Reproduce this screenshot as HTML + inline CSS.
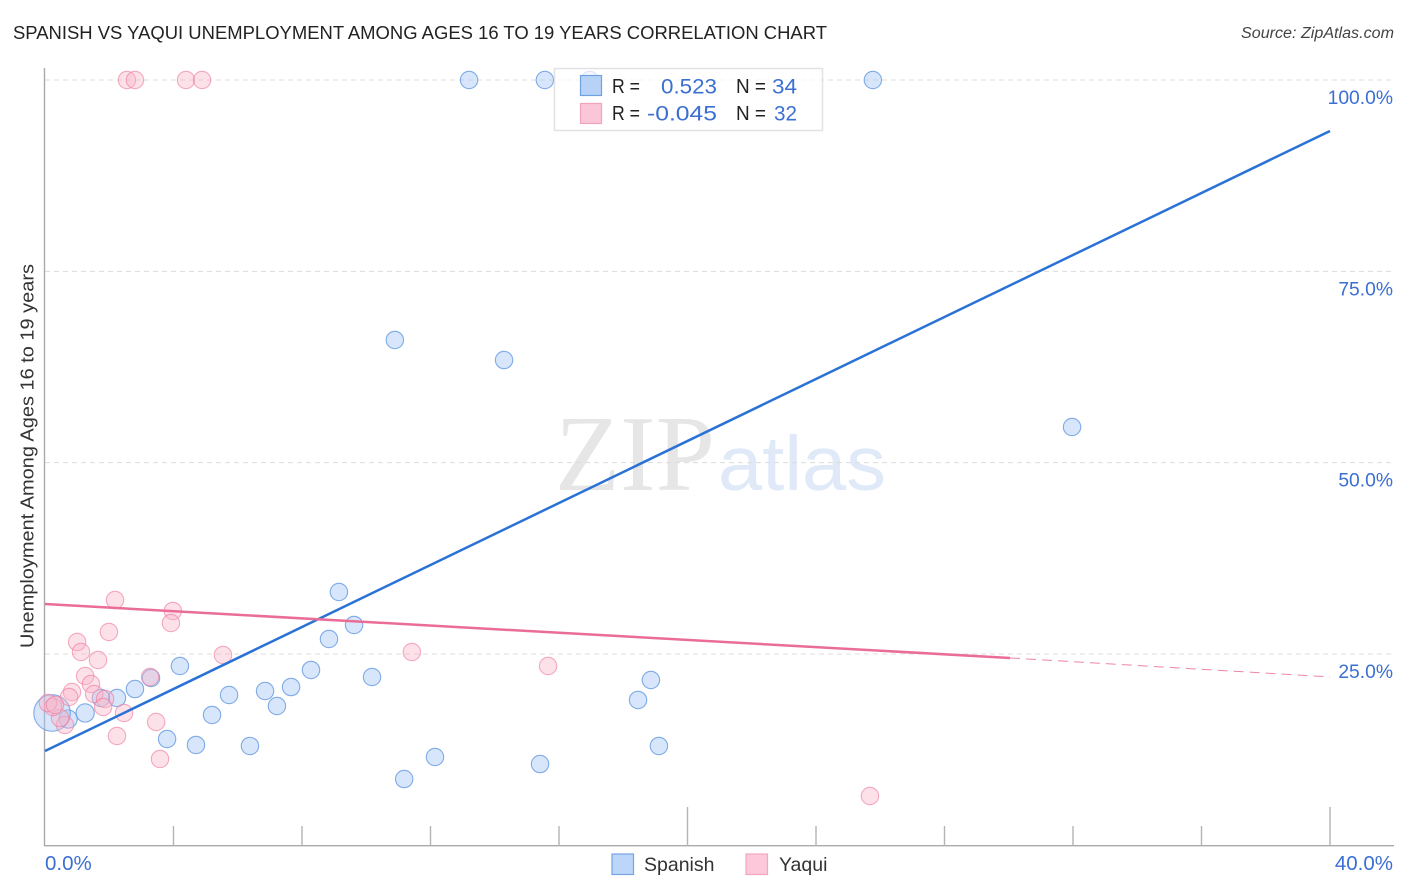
<!DOCTYPE html>
<html lang="en">
<head>
<meta charset="utf-8">
<title>Spanish vs Yaqui Unemployment Correlation Chart</title>
<style>
html,body{margin:0;padding:0;background:#fff;width:1406px;height:892px;overflow:hidden}
svg{display:block;font-family:"Liberation Sans",sans-serif}
</style>
</head>
<body>
<svg id="chart" xmlns="http://www.w3.org/2000/svg" width="1406" height="892" viewBox="0 0 1406 892">
  <text x="13" y="39" font-size="18.5" fill="#222" textLength="814" lengthAdjust="spacingAndGlyphs">SPANISH VS YAQUI UNEMPLOYMENT AMONG AGES 16 TO 19 YEARS CORRELATION CHART</text>
  <text x="1241" y="38" font-size="15.5" font-style="italic" fill="#444" textLength="153" lengthAdjust="spacingAndGlyphs">Source: ZipAtlas.com</text>
  <text x="555" y="490" font-size="108" font-family="'Liberation Serif',serif" fill="#e6e6e6" textLength="160" lengthAdjust="spacingAndGlyphs">ZIP</text>
  <text x="718" y="490" font-size="77" fill="#dfe9f8" textLength="168" lengthAdjust="spacingAndGlyphs">atlas</text>
  <g id="grid"></g>
  <g id="axes"></g>
  <g id="points"></g>
  <g id="trends"></g>
  <text transform="translate(33.5,456) rotate(-90)" font-size="18" fill="#333" text-anchor="middle" textLength="384" lengthAdjust="spacingAndGlyphs">Unemployment Among Ages 16 to 19 years</text>

  <g>
    <rect x="554.5" y="68.5" width="268" height="62" fill="#fff" fill-opacity="0.72" stroke="#e2e2e2" stroke-width="1.5"/>
    <rect x="580.5" y="75.5" width="21" height="20" fill="#b4d0f7" fill-opacity="0.95" stroke="#6fa0e2" stroke-width="1.2"/>
    <rect x="580.5" y="103.5" width="21" height="20" fill="#fbc6d8" stroke="#f4a3bd" stroke-width="1.2"/>
    <g font-size="20" fill="#222">
      <text x="612" y="93" textLength="28" lengthAdjust="spacingAndGlyphs">R =</text>
      <text x="612" y="120" textLength="28" lengthAdjust="spacingAndGlyphs">R =</text>
      <text x="736" y="93" textLength="30" lengthAdjust="spacingAndGlyphs">N =</text>
      <text x="736" y="120" textLength="30" lengthAdjust="spacingAndGlyphs">N =</text>
    </g>
    <g font-size="21" fill="#3b6fd1">
      <text x="661" y="93.5" textLength="56" lengthAdjust="spacingAndGlyphs">0.523</text>
      <text x="647" y="120.5" textLength="70" lengthAdjust="spacingAndGlyphs">-0.045</text>
      <text x="772" y="93.5" textLength="25" lengthAdjust="spacingAndGlyphs">34</text>
      <text x="774" y="120.5" textLength="23" lengthAdjust="spacingAndGlyphs">32</text>
    </g>
  </g>

  <g>
    <rect x="612" y="854" width="21.5" height="20.5" fill="#bcd6f9" stroke="#74a4e4" stroke-width="1.2"/>
    <text x="644" y="871" font-size="19.5" fill="#333">Spanish</text>
    <rect x="746" y="854" width="21.5" height="20.5" fill="#fcc8da" stroke="#f4a6bf" stroke-width="1.2"/>
    <text x="779" y="871" font-size="19.5" fill="#333">Yaqui</text>
  </g>
</svg>
<script>
const xTickValues = [0, 4, 8, 12, 16, 20, 24, 28, 32, 36, 40];
const xMajorTicks = [20, 40];
const xTickLabels = ["0.0%", "40.0%"];
const yTickValues = [25, 50, 75, 100];
const yTickLabels = ["25.0%", "50.0%", "75.0%", "100.0%"];

const spanishX = [13.20, 15.56, 16.96, 25.77, 10.89, 14.29, 31.97, 9.15, 9.62, 8.84, 4.20, 8.28, 10.18, 3.30, 7.66, 6.85, 2.80, 5.73, 2.24, 1.74, 7.22, 5.20, 1.25, 0.72, 0.22, 3.80, 4.70, 6.38, 12.14, 11.18, 15.41, 18.46, 18.86, 19.11];
const spanishY = [100, 100, 100, 100, 66.03, 63.41, 54.66, 33.10, 28.79, 26.96, 23.43, 22.91, 21.99, 21.86, 20.68, 20.16, 20.42, 19.64, 19.25, 19.25, 18.20, 17.03, 17.29, 16.50, 17.29, 13.89, 13.11, 12.98, 11.54, 8.66, 10.62, 18.99, 21.60, 12.98];
const spanishWeight = [1, 1, 1, 1, 1, 1, 1, 1, 1, 1, 1, 1, 1, 1, 1, 1, 1, 1, 1, 1, 1, 1, 1.05, 1.05, 2.1, 1, 1, 1, 1, 1, 1, 1, 1, 1];

const yaquiX = [2.55, 2.80, 4.39, 4.89, 2.18, 3.98, 3.92, 1.99, 1.00, 1.12, 1.65, 5.54, 11.42, 15.66, 1.25, 3.27, 1.43, 0.84, 0.75, 1.53, 1.87, 1.81, 2.46, 3.46, 2.24, 3.58, 25.68, 0.62, 0.47, 0.25, 0.09, 0.31];
const yaquiY = [100, 100, 100, 100, 32.05, 30.62, 29.05, 27.87, 26.56, 25.26, 24.21, 24.87, 25.26, 23.43, 22.12, 21.99, 21.08, 20.03, 19.38, 19.77, 19.12, 18.07, 17.29, 16.11, 14.28, 11.28, 6.44, 15.72, 16.63, 18.07, 18.59, 18.33];

const spanishTrendX = [0, 40];
const spanishTrendY = [12.32, 93.34];
const yaquiTrendX = [0, 30.04];
const yaquiTrendY = [31.53, 24.48];
const yaquiDashX = [30.04, 40];
const yaquiDashY = [24.48, 22.0];

const SVGNS = "http://www.w3.org/2000/svg";
const xScale = v => 45 + v * 32.125;
const yScale = v => 845.3 - v * 7.653;

function make(parent, tag, attrs, text) {
  const el = document.createElementNS(SVGNS, tag);
  for (const k in attrs) el.setAttribute(k, attrs[k]);
  if (text !== undefined) el.textContent = text;
  document.getElementById(parent).appendChild(el);
  return el;
}

yTickValues.forEach((v, i) => {
  const line = make("grid", "line", {x1: 45, x2: 1394, y1: yScale(v), y2: yScale(v), stroke: "#dcdcdc", "stroke-width": 1, "stroke-dasharray": "5 4"});
  
  
  const label = make("axes", "text", {x: 1393, y: yScale(v) + 24, "font-size": 19.3, fill: "#3b6fd1", "text-anchor": "end"}, yTickLabels[i]);
  
  
});

const yLine = make("axes", "line", {x1: 44.5, x2: 44.5, y1: 68, y2: 846, stroke: "#aaa", "stroke-width": 1.4});


const xLine = make("axes", "line", {x1: 44, x2: 1394, y1: 845.7, y2: 845.7, stroke: "#aaa", "stroke-width": 1.4});



xTickValues.forEach(v => {
  if (v === 0) return;
  const top = xMajorTicks.includes(v) ? 807 : 826;
  const tick = make("axes", "line", {x1: xScale(v), x2: xScale(v), y1: top, y2: 845.7, stroke: "#b4b4b4", "stroke-width": 1.4});
  
  
});

const xLabelStart = make("axes", "text", {x: 45, y: 870, "font-size": 20.5, fill: "#3b6fd1"}, xTickLabels[0]);


const xLabelEnd = make("axes", "text", {x: 1393, y: 870, "font-size": 20.5, fill: "#3b6fd1", "text-anchor": "end"}, xTickLabels[1]);



spanishX.forEach((v, i) => {
  const c = make("points", "circle", {cx: xScale(v), cy: yScale(spanishY[i]), r: 8.7 * spanishWeight[i], fill: "#a6c8f4", "fill-opacity": 0.45, stroke: "#5b93e0", "stroke-opacity": 0.75, "stroke-width": 1.1});
  
  
});
yaquiX.forEach((v, i) => {
  const c = make("points", "circle", {cx: xScale(v), cy: yScale(yaquiY[i]), r: 8.7, fill: "#f9b3c9", "fill-opacity": 0.4, stroke: "#ee7fa3", "stroke-opacity": 0.65, "stroke-width": 1.1});
  
  
});

const blueLine = make("trends", "line", {x1: xScale(spanishTrendX[0]), y1: yScale(spanishTrendY[0]), x2: xScale(spanishTrendX[1]), y2: yScale(spanishTrendY[1]), stroke: "#2a72d6", "stroke-width": 2.5});


const pinkLine = make("trends", "line", {x1: xScale(yaquiTrendX[0]), y1: yScale(yaquiTrendY[0]), x2: xScale(yaquiTrendX[1]), y2: yScale(yaquiTrendY[1]), stroke: "#ea6d98", "stroke-width": 2.5});


const pinkDash = make("trends", "line", {x1: xScale(yaquiDashX[0]), y1: yScale(yaquiDashY[0]), x2: xScale(yaquiDashX[1]), y2: yScale(yaquiDashY[1]), stroke: "#ee85a9", "stroke-width": 1, "stroke-dasharray": "10 6"});


</script>
</body>
</html>
